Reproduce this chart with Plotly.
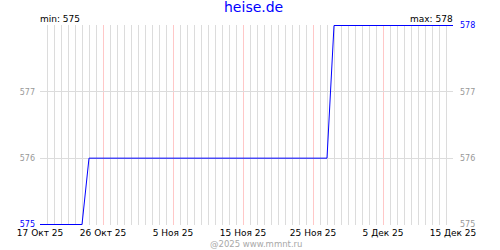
import plotly.graph_objects as go
import pandas as pd

dates = pd.date_range("2025-10-17", "2025-12-15", freq="D")
values = [
    575, 575, 575, 575, 575, 575, 575,                      # 17-23 Oct
    576, 576, 576, 576, 576, 576, 576, 576,                 # 24-31 Oct
    576, 576, 576, 576, 576, 576, 576, 576, 576, 576,       # 1-10 Nov
    576, 576, 576, 576, 576, 576, 576, 576, 576, 576,       # 11-20 Nov
    576, 576, 576, 576, 576, 576, 576,                      # 21-27 Nov
    578, 578, 578,                                          # 28-30 Nov
    578, 578, 578, 578, 578, 578, 578, 578, 578, 578,       # 1-10 Dec
    578, 578, 578, 578, 578,                                # 11-15 Dec
]

tick_vals = ["2025-10-17", "2025-10-26", "2025-11-05", "2025-11-15",
             "2025-11-25", "2025-12-05", "2025-12-15"]
tick_text = ["17 Окт 25", "26 Окт 25", "5 Ноя 25", "15 Ноя 25",
             "25 Ноя 25", "5 Дек 25", "15 Дек 25"]

left_vals = [575, 576, 577, 578]
left_text = ['<span style="color:#0000ff">575</span>', "576", "577", ""]
right_vals = [575, 576, 577, 578]
right_text = ["575", "576", "577", '<span style="color:#0000ff">578</span>']

title_text = "heise.de"
min_text = "min: 575"
max_text = "max: 578"
copy_text = "@2025 www.mmnt.ru"

FONT = "DejaVu Sans"
GRID = "#dcdcdc"
RED = "#ffc8c8"
TICKGRAY = "#999999"

fig = go.Figure()
# invisible copy on the right-hand axis so that axis gets drawn
fig.add_trace(go.Scatter(x=dates, y=values, mode="lines", yaxis="y2",
                         line=dict(color="#0000ff", width=1), opacity=0,
                         hoverinfo="skip", showlegend=False))
fig.add_trace(go.Scatter(x=dates, y=values, mode="lines",
                         line=dict(color="#0000ff", width=1),
                         hoverinfo="skip", showlegend=False))

yr = [574.9925, 578.0075]
fig.update_layout(
    width=500, height=250,
    margin=dict(l=40, r=47, t=25, b=25),
    paper_bgcolor="white", plot_bgcolor="white",
    font=dict(family=FONT, size=9, color="black"),
    xaxis=dict(
        type="date",
        range=["2025-10-17", "2025-12-15"],
        tickmode="array", tickvals=tick_vals, ticktext=tick_text,
        showgrid=True, gridcolor=RED, gridwidth=1,
        minor=dict(dtick=86400000, tick0="2025-10-17", showgrid=True,
                   gridcolor=GRID, gridwidth=1),
        showline=False, ticks="", zeroline=False,
        tickfont=dict(family=FONT, size=9, color="black"),
        ticklabelstandoff=1,
    ),
    yaxis=dict(
        range=yr, tickmode="array", tickvals=left_vals, ticktext=left_text,
        showgrid=True, gridcolor=GRID, gridwidth=1, zeroline=False,
        showline=False, ticks="",
        tickfont=dict(family=FONT, size=8, color=TICKGRAY),
        ticklabelstandoff=4,
    ),
    yaxis2=dict(
        range=yr, overlaying="y", side="right", anchor="x",
        tickmode="array", tickvals=right_vals, ticktext=right_text,
        showgrid=False, zeroline=False, showline=False, ticks="",
        tickfont=dict(family=FONT, size=8, color=TICKGRAY),
        ticklabelstandoff=6,
    ),
    annotations=[
        dict(text=title_text, xref="paper", yref="paper",
             x=(253 - 40) / 413, y=1 + (25 - 7) / 200,
             xanchor="center", yanchor="middle", showarrow=False,
             font=dict(family=FONT, size=14, color="#0000ff")),
        dict(text=min_text, xref="paper", yref="paper",
             x=0, y=1 + (25 - 19) / 200, xanchor="left", yanchor="middle",
             showarrow=False, xshift=-2,
             font=dict(family=FONT, size=9, color="black")),
        dict(text=max_text, xref="paper", yref="paper",
             x=1, y=1 + (25 - 19) / 200, xanchor="right", yanchor="middle",
             showarrow=False, xshift=2,
             font=dict(family=FONT, size=9, color="black")),
        dict(text=copy_text, xref="paper", yref="paper",
             x=(256 - 40) / 413, y=-(244.5 - 225) / 200,
             xanchor="center", yanchor="middle", showarrow=False,
             font=dict(family=FONT, size=8.5, color="#a8a8a8")),
    ],
)

fig.write_html("out.html")
